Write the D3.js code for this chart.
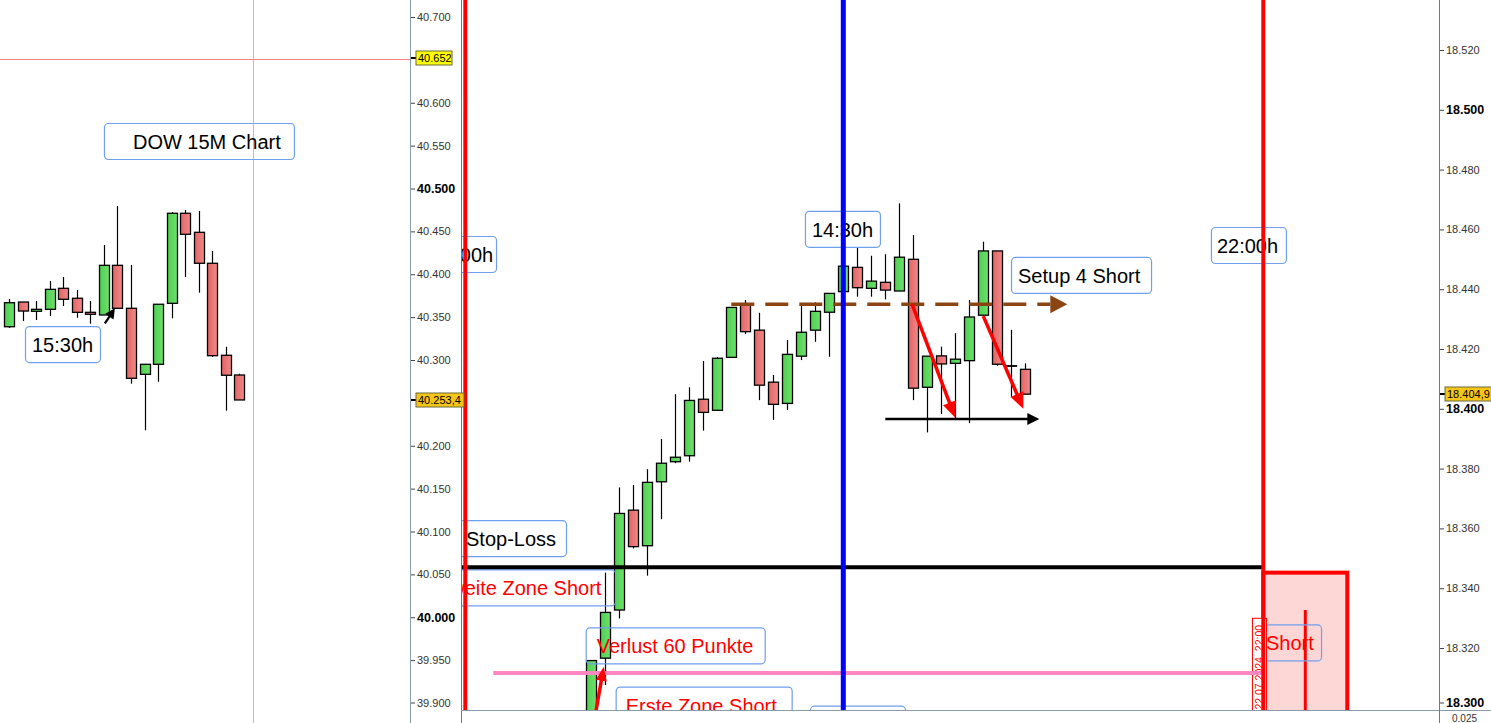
<!DOCTYPE html>
<html><head><meta charset="utf-8">
<script src="https://cdn.jsdelivr.net/npm/d3@7"></script>
<style>body{margin:0;background:#fff;overflow:hidden}svg{display:block;font-family:"Liberation Sans",Arial,sans-serif}</style>
</head><body><svg id="c" width="1491" height="723"></svg>
<script>
// ---- DOW 15M (left panel) ----
const dowOpen  = [40338.8,40367.6,40356.8,40359.1,40383.6,40372.0,40355.6,40352.5,40410.4,40360.3,40283.3,40295.0,40366.1,40471.1,40448.9,40412.8,40305.5,40282.5];
const dowHigh  = [40371.1,40367.6,40368.8,40392.1,40396.8,40381.6,40368.8,40434.1,40479.6,40410.8,40295.0,40365.0,40472.6,40474.9,40473.8,40427.1,40315.5,40284.0];
const dowLow   = [40337.3,40345.5,40346.6,40351.3,40363.0,40349.3,40342.3,40352.5,40360.3,40272.4,40218.0,40274.7,40348.6,40396.8,40378.5,40303.8,40240.9,40253.4];
const dowClose = [40366.8,40357.1,40359.1,40382.4,40370.8,40355.6,40353.3,40410.4,40360.3,40278.7,40295.0,40365.0,40471.1,40446.6,40412.8,40305.0,40282.2,40253.4];
const dowTicks = [40700,40600,40550,40500,40450,40400,40350,40300,40200,40150,40100,40050,40000,39950,39900];
const dowBoldTicks = [40500,40000];
const dowMarks = [40652, 40253.4];

// ---- DAX 15M (right panel) ----
const daxOpen  = [18289.2,18316.6,18332.7,18366.1,18354.2,18375.6,18382.3,18384.3,18403.2,18399.5,18417.2,18434.7,18426.3,18408.9,18401.8,18417.6,18426.3,18432.3,18439.2,18447.3,18440.3,18442.3,18439.4,18450.0,18407.2,18417.7,18415.2,18416.1,18431.3,18452.8,18414.4,18413.2];
const daxHigh  = [18315.8,18345.2,18373.7,18374.5,18379.8,18389.9,18404.9,18407.2,18416.0,18417.3,18433.9,18436.4,18432.1,18411.3,18423.0,18434.7,18435.6,18438.6,18449.1,18454.0,18451.2,18451.7,18468.7,18458.1,18417.6,18420.8,18425.3,18436.4,18455.9,18452.8,18426.4,18415.2];
const daxLow   = [18280.0,18307.6,18329.9,18353.3,18344.2,18363.1,18381.8,18382.3,18392.7,18399.5,18417.2,18425.0,18402.9,18396.3,18399.6,18416.3,18422.4,18417.4,18439.2,18437.5,18437.5,18436.6,18439.4,18402.9,18392.1,18398.3,18396.8,18395.2,18431.3,18414.4,18404.0,18404.9];
const daxClose = [18315.8,18331.9,18365.0,18353.9,18375.4,18381.8,18383.8,18402.8,18398.8,18416.9,18433.9,18425.8,18407.9,18401.5,18418.2,18425.6,18432.6,18438.6,18447.7,18440.5,18442.7,18439.7,18450.7,18406.9,18417.6,18415.0,18416.6,18430.7,18452.8,18414.9,18414.4,18404.9];
const daxTicks = [18520,18500,18480,18460,18440,18420,18400,18380,18360,18340,18320,18300];
const daxBoldTicks = [18500,18400,18300];
const daxMarks = [18404.9];

// annotation values (candle index / price)
const redTimeIdx = [-9, 48];
const blueTimeIdx = [18];
const stopLossLevel = 18347;
const pinkLevel = 18311.6, pinkFromIdx = -7, levelToIdx = 48;
const setupLevel = 18435, setupFrom = 10, setupTo = 34;
const supportLevel = 18396.6, supportFrom = 21, supportTo = 32;
const redArrows = [[22.9,18435.1,26,18397],[28,18431,30.86,18400]];
const entryArrow = [-0.3,18282,0.886,18313.7];
const shortBoxIdx = [48,54], shortBoxTop = 18345.2, shortBarIdx = 51, shortBarTop = 18332.7;
const dowArrow = [7.07,40342.8,7.81,40360.3];
const rightLabels = [
  {t:"08:00h",i:-12.02,p:18457.8,w:73,pad:9,c:"#000"},
  {t:"14:30h",i:15.26,p:18466.2,w:75,pad:7,c:"#000"},
  {t:"22:00h",i:44.26,p:18460.8,w:75,pad:6,c:"#000"},
  {t:"Setup 4 Short",i:29.98,p:18450.8,w:140,pad:7,c:"#000"},
  {t:"Stop-Loss",i:-9.45,p:18362.8,w:107,pad:7,c:"#000"},
  {t:"Zweite Zone Short",i:-11.45,p:18346.3,w:184,pad:7,c:"#ff0000"},
  {t:"Verlust 60 Punkte",i:-0.4,p:18326.9,w:179,pad:11,c:"#ff0000"},
  {t:"Erste Zone Short",i:1.74,p:18307.1,w:176,pad:10,c:"#ff0000"},
  {t:"Short",i:47.91,p:18327.9,w:59,pad:4,c:"#ff0000"},
  {t:"",i:15.62,p:18300.7,w:95,pad:0,c:"#000"}
];
const leftLabels = [
  {t:"DOW 15M Chart",i:7.0,p:40576.4,w:190,pad:29,c:"#000"},
  {t:"15:30h",i:1.167,p:40339.6,w:75,pad:7,c:"#000"}
];
const dateText = "22.07.2024, 22:00", dateIdx = 47.19, dateTop = 18330.1, dateBase = 18299.4;

// ---- scales ----
const loc = d3.formatLocale({decimal:",",thousands:".",grouping:[3],currency:["",""]});
const f0 = loc.format(",.0f"), f1 = loc.format(",.1f");
const yDow = d3.scaleLinear().domain([39900,40700]).range([703,17]);
const yDax = d3.scaleLinear().domain([18320,18520]).range([648,50]);
const xDow = d3.scaleLinear().domain([0,17]).range([9.2,239.3]);
const xDax = d3.scaleLinear().domain([0,31]).range([591.3,1025.3]);

const svg = d3.select("#c");
const defs = svg.append("defs");
defs.append("clipPath").attr("id","clipL").append("rect").attr("x",0).attr("y",0).attr("width",410).attr("height",723);
defs.append("clipPath").attr("id","clipR").append("rect").attr("x",462).attr("y",0).attr("width",977).attr("height",710);
const gr = defs.append("linearGradient").attr("id","gRed");
gr.append("stop").attr("offset","0").attr("stop-color","#e26464");
gr.append("stop").attr("offset","1").attr("stop-color","#f08a8a");
const gg = defs.append("linearGradient").attr("id","gGreen");
gg.append("stop").attr("offset","0").attr("stop-color","#4fd04f");
gg.append("stop").attr("offset","1").attr("stop-color","#6ee06e");

const L = svg.append("g").attr("clip-path","url(#clipL)");
const R = svg.append("g").attr("clip-path","url(#clipR)");

function arrow(g,x1,y1,x2,y2,color,w,hl,hw){
  const a = Math.atan2(y2-y1,x2-x1), bx = x2-hl*Math.cos(a), by = y2-hl*Math.sin(a);
  g.append("line").attr("x1",x1).attr("y1",y1).attr("x2",bx+Math.cos(a)).attr("y2",by+Math.sin(a)).attr("stroke",color).attr("stroke-width",w);
  const px = -Math.sin(a)*hw/2, py = Math.cos(a)*hw/2;
  g.append("path").attr("d",`M${x2},${y2}L${bx+px},${by+py}L${bx-px},${by-py}Z`).attr("fill",color);
}
function candles(g,xs,ys,o,h,l,c){
  const idx = d3.range(o.length);
  g.append("g").selectAll("line").data(idx).join("line")
    .attr("x1",i=>Math.round(xs(i))+0.5).attr("x2",i=>Math.round(xs(i))+0.5)
    .attr("y1",i=>ys(h[i])).attr("y2",i=>ys(l[i])).attr("stroke","#000").attr("stroke-width",1.2);
  g.append("g").selectAll("rect").data(idx).join("rect")
    .attr("x",i=>Math.round(xs(i))-4.5).attr("width",10)
    .attr("y",i=>ys(Math.max(o[i],c[i])))
    .attr("height",i=>Math.max(0.5,Math.abs(ys(o[i])-ys(c[i]))))
    .attr("fill",i=>c[i]>o[i]?"url(#gGreen)":"url(#gRed)")
    .attr("stroke","#000").attr("stroke-width",1.3);
}
function labels(g,list,xs,ys){
  list.forEach(d=>{
    const x=xs(d.i), y=ys(d.p);
    g.append("rect").attr("x",x+0.5).attr("y",y+0.5).attr("width",d.w).attr("height",36).attr("rx",4)
      .attr("fill","none").attr("stroke","#6f9ff0").attr("stroke-width",1.2);
    if(d.t) g.append("text").attr("x",x+d.pad).attr("y",y+26).attr("font-size",20).attr("fill",d.c).text(d.t);
  });
}

// ---- left panel ----
L.append("line").attr("x1",253.5).attr("x2",253.5).attr("y1",0).attr("y2",723).attr("stroke","#f0a8a8").attr("stroke-width",1);
L.append("line").attr("x1",0).attr("x2",410).attr("y1",Math.round(yDow(dowMarks[0]))+1.5).attr("y2",Math.round(yDow(dowMarks[0]))+1.5).attr("stroke","#ff8080").attr("stroke-width",1);
candles(L,xDow,yDow,dowOpen,dowHigh,dowLow,dowClose);
labels(L,leftLabels,xDow,yDow);
arrow(L,xDow(dowArrow[0]),yDow(dowArrow[1]),xDow(dowArrow[2]),yDow(dowArrow[3]),"#000",2.2,10,10);

// ---- right panel ----
candles(R,xDax,yDax,daxOpen,daxHigh,daxLow,daxClose);
// short position box
R.append("rect").attr("x",xDax(shortBoxIdx[0])).attr("y",yDax(shortBoxTop)).attr("width",xDax(shortBoxIdx[1])-xDax(shortBoxIdx[0])).attr("height",200)
  .attr("fill","#fdd6d6").attr("stroke","#ff0000").attr("stroke-width",4);
R.append("line").attr("x1",xDax(shortBarIdx)).attr("x2",xDax(shortBarIdx)).attr("y1",yDax(shortBarTop)).attr("y2",720).attr("stroke","#ff0000").attr("stroke-width",3);
labels(R,rightLabels,xDax,yDax);
// date tag
{
  const x=xDax(dateIdx), y=yDax(dateTop);
  R.append("rect").attr("x",x+0.5).attr("y",y+0.5).attr("width",14).attr("height",100).attr("fill","#fff").attr("stroke","#ff0000").attr("stroke-width",1);
  R.append("text").attr("transform",`translate(${x+11.5},${yDax(dateBase)}) rotate(-90)`).attr("font-size",10.5).attr("fill","#ff0000").text(dateText);
}
// levels
R.append("line").attr("x1",462).attr("x2",xDax(levelToIdx)).attr("y1",yDax(stopLossLevel)).attr("y2",yDax(stopLossLevel)).attr("stroke","#000").attr("stroke-width",4);
R.append("line").attr("x1",xDax(pinkFromIdx)).attr("x2",xDax(levelToIdx)).attr("y1",yDax(pinkLevel)).attr("y2",yDax(pinkLevel)).attr("stroke","#ff86c0").attr("stroke-width",4);
R.append("line").attr("x1",xDax(setupFrom)).attr("x2",xDax(setupTo)-17).attr("y1",yDax(setupLevel)).attr("y2",yDax(setupLevel))
  .attr("stroke","#8b4513").attr("stroke-width",3.5).attr("stroke-dasharray","23 11");
{
  const xe=xDax(setupTo), ye=yDax(setupLevel);
  R.append("path").attr("d",`M${xe},${ye}L${xe-17},${ye-9}L${xe-17},${ye+9}Z`).attr("fill","#8b4513");
}
arrow(R,xDax(supportFrom),yDax(supportLevel),xDax(supportTo),yDax(supportLevel),"#000",2.5,12,12);
redArrows.forEach(a=>arrow(R,xDax(a[0]),yDax(a[1]),xDax(a[2]),yDax(a[3]),"#ff0000",3.5,16,14));
arrow(R,xDax(entryArrow[0]),yDax(entryArrow[1]),xDax(entryArrow[2]),yDax(entryArrow[3]),"#ff0000",3.5,14,11);
// vertical time lines
redTimeIdx.forEach(i=>R.append("line").attr("x1",xDax(i)).attr("x2",xDax(i)).attr("y1",0).attr("y2",710).attr("stroke","#ff0000").attr("stroke-width",4));
blueTimeIdx.forEach(i=>R.append("line").attr("x1",xDax(i)).attr("x2",xDax(i)).attr("y1",0).attr("y2",710).attr("stroke","#0000ff").attr("stroke-width",5));

// ---- frames ----
svg.append("line").attr("x1",410.5).attr("x2",410.5).attr("y1",0).attr("y2",723).attr("stroke","#8a9bab");
svg.append("line").attr("x1",461.5).attr("x2",461.5).attr("y1",0).attr("y2",723).attr("stroke","#6d7780");
svg.append("line").attr("x1",461).attr("x2",1491).attr("y1",710.5).attr("y2",710.5).attr("stroke","#8a9bab");
svg.append("line").attr("x1",1439.5).attr("x2",1439.5).attr("y1",0).attr("y2",723).attr("stroke","#6d7780");

// ---- axes ----
function drawAxis(x0,scale,ticks,bold,fmt){
  const ax = d3.axisRight(scale).tickValues(ticks).tickSize(4).tickPadding(2).tickFormat(fmt);
  const g = svg.append("g").attr("transform",`translate(${x0},0)`).call(ax);
  g.select(".domain").remove();
  g.selectAll(".tick line").attr("stroke","#444");
  g.selectAll(".tick text").attr("fill","#333").attr("font-size",11).attr("font-family","Liberation Sans, Arial, sans-serif")
    .filter(d=>bold.includes(d)).attr("font-weight","bold").attr("font-size",12.5).attr("fill","#000");
  g.selectAll(".tick").filter(d=>scale(d)>700).attr("transform",d=>`translate(0,703)`);
  return g;
}
drawAxis(411,yDow,dowTicks,dowBoldTicks,f0);
drawAxis(1440,yDax,daxTicks,daxBoldTicks,f0);
function mark(x0,y,txt,fill,w){
  svg.append("line").attr("x1",x0).attr("x2",x0+5).attr("y1",y).attr("y2",y).attr("stroke","#000").attr("stroke-width",2);
  svg.append("rect").attr("x",x0+5).attr("y",y-7).attr("width",w).attr("height",14).attr("fill",fill).attr("stroke","#6b6b3a").attr("stroke-width",1);
  svg.append("text").attr("x",x0+7).attr("y",y+4).attr("font-size",11).attr("fill","#000").text(txt);
}
mark(411,Math.round(yDow(dowMarks[0])),f0(dowMarks[0]),"#ffff00",36);
mark(411,Math.round(yDow(dowMarks[1])),f1(dowMarks[1]),"#f5c518",48);
mark(1440,Math.round(yDax(daxMarks[0])),f1(daxMarks[0]),"#f5c518",50);
svg.append("text").attr("x",1452).attr("y",722).attr("font-size",10).attr("fill","#333").text("0.025");
</script></body></html>
